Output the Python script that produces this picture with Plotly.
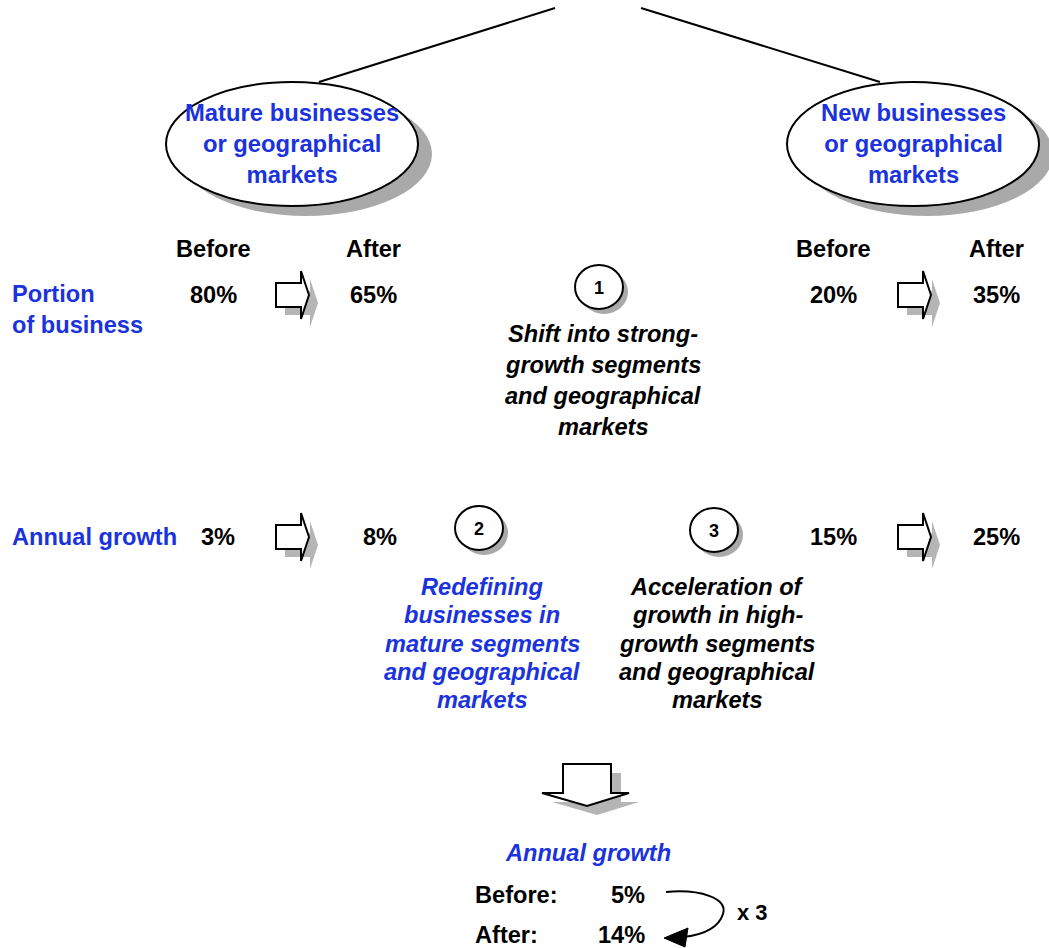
import plotly.graph_objects as go

# ---- content -------------------------------------------------------------
segments = ["Mature businesses<br>or geographical<br>markets",
            "New businesses<br>or geographical<br>markets"]
phase_labels = ["Before", "After"]
row_labels = ["Portion<br>of business", "Annual growth"]

mature_share = [80, 65]      # portion of business, before / after (%)
new_share = [20, 35]
mature_growth = [3, 8]       # annual growth, before / after (%)
new_growth = [15, 25]
total_growth = [5, 14]       # overall annual growth, before / after (%)
growth_factor = 3

levers = [
    ("1", ["Shift into strong-", "growth segments", "and geographical", "markets"]),
    ("2", ["Redefining", "businesses in", "mature segments", "and geographical", "markets"]),
    ("3", ["Acceleration of", "growth in high-", "growth segments", "and geographical", "markets"]),
]

# ---- styling ---------------------------------------------------------------
W, H = 1049, 948
BLUE = "#1a33dd"
BLACK = "#000000"
SHADOW = "#a9a9a9"
ARROW_SHADOW = "#b5b5b5"
FONT = "Liberation Sans, Arial, Helvetica, sans-serif"
FS = 23.6

shapes = []
annotations = []


def text(x, y, s, size=FS, color=BLACK, italic=False, xanchor="center", align="center"):
    s = f"<b>{s}</b>"
    if italic:
        s = f"<i>{s}</i>"
    annotations.append(dict(
        x=x, y=y, xref="x", yref="y", text=s, showarrow=False,
        xanchor=xanchor, yanchor="middle", align=align, borderpad=0,
        font=dict(family=FONT, size=size, color=color),
    ))


def ellipse(cx, cy, rx, ry, dx, dy, width=2):
    shapes.append(dict(type="circle", xref="x", yref="y",
                       x0=cx - rx + dx, x1=cx + rx + dx, y0=cy - ry + dy, y1=cy + ry + dy,
                       fillcolor=SHADOW, line=dict(width=0), layer="below"))
    shapes.append(dict(type="circle", xref="x", yref="y",
                       x0=cx - rx, x1=cx + rx, y0=cy - ry, y1=cy + ry,
                       fillcolor="white", line=dict(color=BLACK, width=width), layer="below"))


def poly(points):
    return "M " + " L ".join(f"{x},{y}" for x, y in points) + " Z"


def right_arrow(left, cy):
    pts = [(left, cy - 12), (left + 25, cy - 12), (left + 25, cy - 24), (left + 33, cy),
           (left + 25, cy + 24), (left + 25, cy + 12), (left, cy + 12)]
    shadow = [(x + 9, y + 8) for x, y in pts]
    shapes.append(dict(type="path", xref="x", yref="y", path=poly(shadow),
                       fillcolor=ARROW_SHADOW, line=dict(width=0), layer="below"))
    shapes.append(dict(type="path", xref="x", yref="y", path=poly(pts),
                       fillcolor="white", line=dict(color=BLACK, width=2), layer="below"))


def down_arrow(cx, top):
    pts = [(cx - 24, top), (cx + 24, top), (cx + 24, top + 29), (cx + 42, top + 29),
           (cx, top + 42), (cx - 45, top + 29), (cx - 24, top + 29)]
    shadow = [(x + 10, y + 9) for x, y in pts]
    shapes.append(dict(type="path", xref="x", yref="y", path=poly(shadow),
                       fillcolor=ARROW_SHADOW, line=dict(width=0), layer="below"))
    shapes.append(dict(type="path", xref="x", yref="y", path=poly(pts),
                       fillcolor="white", line=dict(color=BLACK, width=2), layer="below"))


# ---- tree connectors -----------------------------------------------------
shapes.append(dict(type="line", xref="x", yref="y", x0=555, y0=8, x1=319, y1=82,
                   line=dict(color=BLACK, width=2), layer="below"))
shapes.append(dict(type="line", xref="x", yref="y", x0=641, y0=8, x1=880, y1=82,
                   line=dict(color=BLACK, width=2), layer="below"))

# ---- segment bubbles -----------------------------------------------------
for cx, label in zip([292, 913], segments):
    ellipse(cx, 144, 126, 62, 14, 10)
    text(cx, 143, label, size=23.8, color=BLUE)

# ---- before / after columns -------------------------------------------------
left_cols = [213, 373]
right_cols = [833, 996]
for x, lab in zip(left_cols + right_cols, phase_labels * 2):
    text(x, 249, lab)

text(11, 309, row_labels[0], color=BLUE, xanchor="left", align="left")
text(11, 537, row_labels[1], color=BLUE, xanchor="left", align="left")

for x, v in zip(left_cols, mature_share):
    text(x, 295, f"{v}%")
for x, v in zip(right_cols, new_share):
    text(x, 295, f"{v}%")
for x, v in zip([218, 380], mature_growth):
    text(x, 537, f"{v}%")
for x, v in zip(right_cols, new_growth):
    text(x, 537, f"{v}%")

right_arrow(276, 295)
right_arrow(898, 295)
right_arrow(276, 537)
right_arrow(898, 537)

# ---- levers ---------------------------------------------------------------
lever_pos = [((599, 287), 603, 334, 31, BLACK),
             ((479, 528), 482, 587, 28.3, BLUE),
             ((714, 530), 717, 587, 28.3, BLACK)]
for (num, lines), ((cx, cy), tx, ty, step, col) in zip(levers, lever_pos):
    ellipse(cx, cy, 24, 22, 5, 5, width=2)
    text(cx, cy + 1, num, size=18)
    for i, line in enumerate(lines):
        text(tx, ty + i * step, line, color=col, italic=True)

# ---- overall result ---------------------------------------------------------
down_arrow(587, 764)
text(588, 853, "Annual growth", color=BLUE, italic=True)
text(474, 895, "Before:", xanchor="left", align="left")
text(474, 935, "After:", xanchor="left", align="left")
text(646, 895, f"{total_growth[0]}%", xanchor="right", align="right")
text(646, 935, f"{total_growth[1]}%", xanchor="right", align="right")
text(752, 912, f"x {growth_factor}", size=22)

shapes.append(dict(type="path", xref="x", yref="y",
                   path="M 666,892 C 700,889 728,898 723,914 C 718,930 700,935 684,937",
                   line=dict(color=BLACK, width=2)))
shapes.append(dict(type="path", xref="x", yref="y",
                   path=poly([(664, 938), (688, 928), (685, 947)]),
                   fillcolor=BLACK, line=dict(color=BLACK, width=1)))

fig = go.Figure()
fig.update_layout(
    width=W, height=H, autosize=False,
    margin=dict(l=0, r=0, t=0, b=0, pad=0),
    paper_bgcolor="white", plot_bgcolor="white",
    xaxis=dict(range=[0, W], visible=False, fixedrange=True),
    yaxis=dict(range=[H, 0], visible=False, fixedrange=True),
    shapes=shapes, annotations=annotations, showlegend=False,
)
fig.write_html("out.html")
